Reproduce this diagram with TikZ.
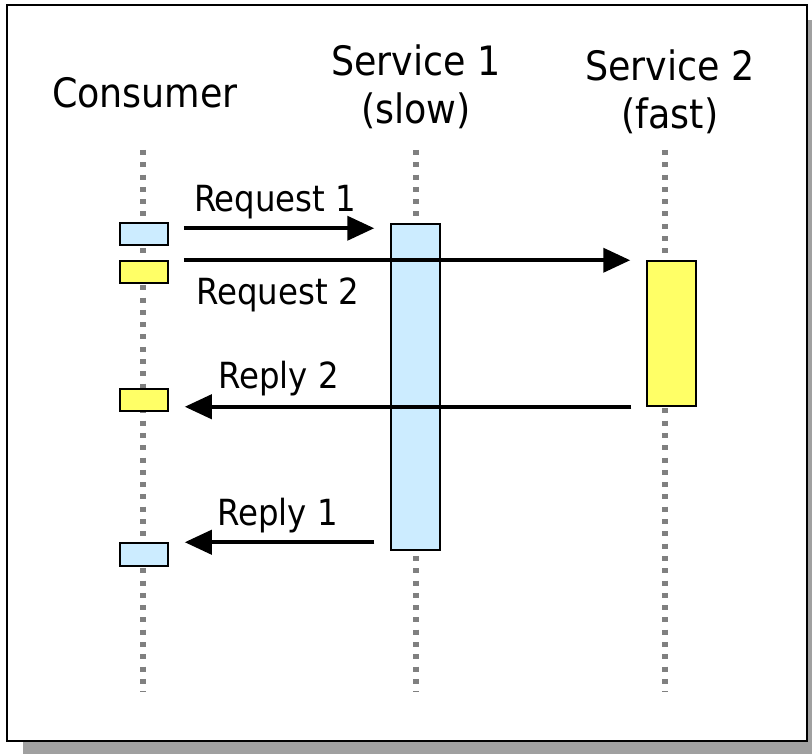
\documentclass[tikz,border=0pt]{standalone}
\usepackage{fontspec}
\setmainfont{DejaVu Sans Condensed}
\usepackage{tikz}
\usepackage{xcolor}
\usetikzlibrary{arrows.meta,calc}
\definecolor{actblue}{HTML}{CCECFF}
\definecolor{actyellow}{HTML}{FFFF66}
\definecolor{shadowgray}{HTML}{A0A0A0}
\definecolor{dotgray}{HTML}{808080}
\tikzset{
    act-box/.style = {draw=black, line width=1.5pt, rectangle, inner sep=0pt, minimum width=48pt},
    life-line/.style = {draw=dotgray, line width=5.5pt, dash pattern=on 5pt off 7.3pt},
    msg-arrow/.style = {line width=4pt, -{Triangle[length=27pt,width=24pt]}},
    msg-label/.style = {font=\fontsize{36}{43}\selectfont, inner sep=0pt},
    head-label/.style = {font=\fontsize{40.5}{48}\selectfont, inner sep=0pt, align=center},
}

\begin{document}
\begin{tikzpicture}[x=1pt, y=-1pt]
\useasboundingbox (0,0) rectangle (812,754);
\fill[shadowgray] (23,20) rectangle (812,754);
\draw[fill=white, line width=2.5pt] (7,5) rectangle (807,741);

\node[head-label] (consumer) at (145,93) {Consumer};
\node[head-label, anchor=north] (service1) at (416,45) {Service 1\\(slow)};
\node[head-label, anchor=north] (service2) at (670,50) {Service 2\\(fast)};

\coordinate (cons-top) at (143,150);
\coordinate (s1-top) at (416,150);
\coordinate (s2-top) at (665,150);
\coordinate (life-end) at (0,692);
\draw[life-line] (cons-top) -- (cons-top |- life-end);
\draw[life-line] (s1-top) -- (s1-top |- life-end);
\draw[life-line] (s2-top) -- (s2-top |- life-end);

\node[act-box, fill=actblue, minimum height=22pt] (req1-box) at (144,234) {};
\node[act-box, fill=actyellow, minimum height=22pt] (req2-box) at (144,272) {};
\node[act-box, fill=actyellow, minimum height=22pt] (rep2-box) at (144,400) {};
\node[act-box, fill=actblue, minimum height=23pt] (rep1-box) at (144,554.5) {};
\node[act-box, fill=actblue, minimum width=49pt, minimum height=326pt] (s1-box) at (415.5,387) {};
\node[act-box, fill=actyellow, minimum width=49pt, minimum height=145pt] (s2-box) at (671.5,333.5) {};

\draw[msg-arrow] ($(req1-box.north east)+(15,6)$) -- node[msg-label, above=7pt, pos=0.48] (req1-label) {Request 1} ($(s1-box.west |- req1-box.north)+(-16,6)$);
\draw[msg-arrow] ($(req2-box.east |- s2-box.north west)+(15,0)$) -- node[msg-label, below=16pt, pos=0.21] (req2-label) {Request 2} ([xshift=-16]s2-box.north west);
\draw[msg-arrow] ([xshift=-15]s2-box.south west) -- node[msg-label, above=9pt, pos=0.79] (rep2-label) {Reply 2} ($(rep2-box.east |- s2-box.south west)+(16,0)$);
\draw[msg-arrow] ($(s1-box.west |- rep1-box.north)+(-16,0)$) -- node[msg-label, above=7pt, pos=0.51] (rep1-label) {Reply 1} ([xshift=16]rep1-box.north east);
\end{tikzpicture}
\end{document}
